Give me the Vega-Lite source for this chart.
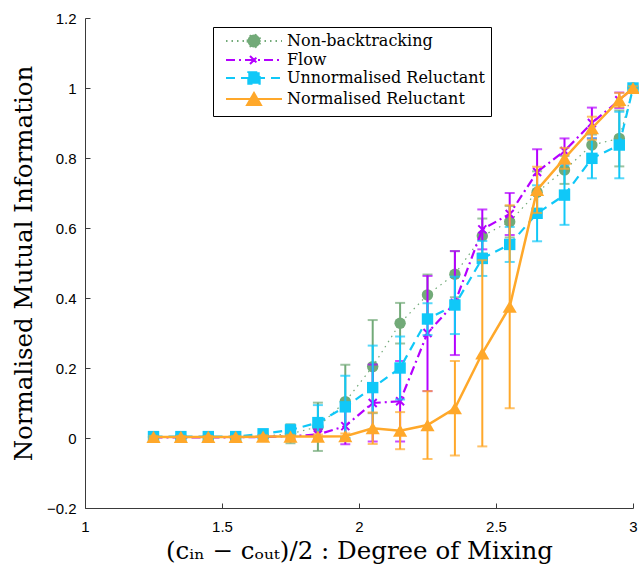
{
  "$schema": "https://vega.github.io/schema/vega-lite/v6.json",
  "width": 548,
  "height": 490,
  "autosize": {"type": "none"},
  "padding": {"left": 85, "top": 18, "right": 6, "bottom": 58},
  "background": "white",
  "config": {
    "view": {"stroke": null},
    "axis": {
      "grid": false,
      "domainColor": "#3a3a3a",
      "tickColor": "#3a3a3a",
      "domainWidth": 1,
      "tickWidth": 1,
      "labelFont": "Liberation Sans",
      "labelFontSize": 15,
      "labelColor": "#000000",
      "titleFont": "DejaVu Serif",
      "titleFontSize": 24.5,
      "titleFontWeight": "normal",
      "titleColor": "#000000"
    },
    "legend": {
      "labelFont": "DejaVu Serif",
      "labelFontSize": 16,
      "labelColor": "#000000",
      "labelLimit": 400,
      "symbolSize": 100,
      "symbolOffset": 27,
      "labelOffset": 25,
      "symbolOpacity": 1,
      "symbolStrokeWidth": 2,
      "rowPadding": 0,
      "padding": 6,
      "strokeColor": "#000000",
      "fillColor": "#ffffff"
    }
  },
  "data": {"values": [
    {"s": "Non-backtracking", "x": 1.25, "y": 0.003, "lo": -0.002, "hi": 0.008},
    {"s": "Non-backtracking", "x": 1.35, "y": 0.003, "lo": -0.002, "hi": 0.008},
    {"s": "Non-backtracking", "x": 1.45, "y": 0.003, "lo": -0.002, "hi": 0.008},
    {"s": "Non-backtracking", "x": 1.55, "y": 0.003, "lo": -0.002, "hi": 0.008},
    {"s": "Non-backtracking", "x": 1.65, "y": 0.005, "lo": -0.003, "hi": 0.013},
    {"s": "Non-backtracking", "x": 1.75, "y": 0.012, "lo": -0.015, "hi": 0.039},
    {"s": "Non-backtracking", "x": 1.85, "y": 0.032, "lo": -0.037, "hi": 0.101},
    {"s": "Non-backtracking", "x": 1.95, "y": 0.104, "lo": 0.0, "hi": 0.209},
    {"s": "Non-backtracking", "x": 2.05, "y": 0.204, "lo": 0.071, "hi": 0.337},
    {"s": "Non-backtracking", "x": 2.15, "y": 0.328, "lo": 0.27, "hi": 0.386},
    {"s": "Non-backtracking", "x": 2.25, "y": 0.409, "lo": 0.351, "hi": 0.467},
    {"s": "Non-backtracking", "x": 2.35, "y": 0.468, "lo": 0.402, "hi": 0.534},
    {"s": "Non-backtracking", "x": 2.45, "y": 0.577, "lo": 0.527, "hi": 0.627},
    {"s": "Non-backtracking", "x": 2.55, "y": 0.618, "lo": 0.573, "hi": 0.663},
    {"s": "Non-backtracking", "x": 2.65, "y": 0.702, "lo": 0.642, "hi": 0.762},
    {"s": "Non-backtracking", "x": 2.75, "y": 0.766, "lo": 0.726, "hi": 0.806},
    {"s": "Non-backtracking", "x": 2.85, "y": 0.837, "lo": 0.807, "hi": 0.867},
    {"s": "Non-backtracking", "x": 2.95, "y": 0.856, "lo": 0.776, "hi": 0.936},
    {"s": "Non-backtracking", "x": 3.0, "y": 1.0, "lo": 0.997, "hi": 1.003},
    {"s": "Flow", "x": 1.25, "y": 0.002, "lo": -0.001, "hi": 0.005},
    {"s": "Flow", "x": 1.35, "y": 0.002, "lo": -0.001, "hi": 0.005},
    {"s": "Flow", "x": 1.45, "y": 0.002, "lo": -0.001, "hi": 0.005},
    {"s": "Flow", "x": 1.55, "y": 0.002, "lo": -0.001, "hi": 0.005},
    {"s": "Flow", "x": 1.65, "y": 0.003, "lo": -0.002, "hi": 0.008},
    {"s": "Flow", "x": 1.75, "y": 0.005, "lo": -0.003, "hi": 0.013},
    {"s": "Flow", "x": 1.85, "y": 0.01, "lo": -0.005, "hi": 0.025},
    {"s": "Flow", "x": 1.95, "y": 0.034, "lo": -0.018, "hi": 0.086},
    {"s": "Flow", "x": 2.05, "y": 0.1, "lo": -0.01, "hi": 0.21},
    {"s": "Flow", "x": 2.15, "y": 0.105, "lo": -0.01, "hi": 0.22},
    {"s": "Flow", "x": 2.25, "y": 0.3, "lo": 0.134, "hi": 0.463},
    {"s": "Flow", "x": 2.35, "y": 0.386, "lo": 0.237, "hi": 0.534},
    {"s": "Flow", "x": 2.45, "y": 0.596, "lo": 0.539, "hi": 0.653},
    {"s": "Flow", "x": 2.55, "y": 0.64, "lo": 0.58, "hi": 0.7},
    {"s": "Flow", "x": 2.65, "y": 0.76, "lo": 0.695, "hi": 0.825},
    {"s": "Flow", "x": 2.75, "y": 0.82, "lo": 0.784, "hi": 0.856},
    {"s": "Flow", "x": 2.85, "y": 0.9, "lo": 0.856, "hi": 0.944},
    {"s": "Flow", "x": 2.95, "y": 0.965, "lo": 0.943, "hi": 0.987},
    {"s": "Flow", "x": 3.0, "y": 1.0, "lo": 0.997, "hi": 1.003},
    {"s": "Unnormalised Reluctant", "x": 1.25, "y": 0.004, "lo": 0.0, "hi": 0.008},
    {"s": "Unnormalised Reluctant", "x": 1.35, "y": 0.004, "lo": 0.0, "hi": 0.008},
    {"s": "Unnormalised Reluctant", "x": 1.45, "y": 0.004, "lo": 0.0, "hi": 0.008},
    {"s": "Unnormalised Reluctant", "x": 1.55, "y": 0.004, "lo": 0.0, "hi": 0.008},
    {"s": "Unnormalised Reluctant", "x": 1.65, "y": 0.012, "lo": 0.004, "hi": 0.02},
    {"s": "Unnormalised Reluctant", "x": 1.75, "y": 0.023, "lo": 0.008, "hi": 0.038},
    {"s": "Unnormalised Reluctant", "x": 1.85, "y": 0.044, "lo": -0.006, "hi": 0.094},
    {"s": "Unnormalised Reluctant", "x": 1.95, "y": 0.089, "lo": 0.0, "hi": 0.178},
    {"s": "Unnormalised Reluctant", "x": 2.05, "y": 0.144, "lo": 0.024, "hi": 0.264},
    {"s": "Unnormalised Reluctant", "x": 2.15, "y": 0.2, "lo": 0.11, "hi": 0.29},
    {"s": "Unnormalised Reluctant", "x": 2.25, "y": 0.34, "lo": 0.294, "hi": 0.385},
    {"s": "Unnormalised Reluctant", "x": 2.35, "y": 0.38, "lo": 0.297, "hi": 0.461},
    {"s": "Unnormalised Reluctant", "x": 2.45, "y": 0.513, "lo": 0.463, "hi": 0.563},
    {"s": "Unnormalised Reluctant", "x": 2.55, "y": 0.553, "lo": 0.503, "hi": 0.603},
    {"s": "Unnormalised Reluctant", "x": 2.65, "y": 0.642, "lo": 0.562, "hi": 0.722},
    {"s": "Unnormalised Reluctant", "x": 2.75, "y": 0.694, "lo": 0.609, "hi": 0.779},
    {"s": "Unnormalised Reluctant", "x": 2.85, "y": 0.799, "lo": 0.742, "hi": 0.856},
    {"s": "Unnormalised Reluctant", "x": 2.95, "y": 0.837, "lo": 0.742, "hi": 0.932},
    {"s": "Unnormalised Reluctant", "x": 3.0, "y": 1.0, "lo": 0.995, "hi": 1.005},
    {"s": "Normalised Reluctant", "x": 1.25, "y": 0.003, "lo": 0.0, "hi": 0.006},
    {"s": "Normalised Reluctant", "x": 1.35, "y": 0.003, "lo": 0.0, "hi": 0.006},
    {"s": "Normalised Reluctant", "x": 1.45, "y": 0.003, "lo": 0.0, "hi": 0.006},
    {"s": "Normalised Reluctant", "x": 1.55, "y": 0.003, "lo": 0.0, "hi": 0.006},
    {"s": "Normalised Reluctant", "x": 1.65, "y": 0.004, "lo": 0.0, "hi": 0.008},
    {"s": "Normalised Reluctant", "x": 1.75, "y": 0.004, "lo": -0.001, "hi": 0.009},
    {"s": "Normalised Reluctant", "x": 1.85, "y": 0.004, "lo": -0.002, "hi": 0.01},
    {"s": "Normalised Reluctant", "x": 1.95, "y": 0.005, "lo": -0.003, "hi": 0.013},
    {"s": "Normalised Reluctant", "x": 2.05, "y": 0.028, "lo": -0.017, "hi": 0.073},
    {"s": "Normalised Reluctant", "x": 2.15, "y": 0.021, "lo": -0.032, "hi": 0.074},
    {"s": "Normalised Reluctant", "x": 2.25, "y": 0.037, "lo": -0.06, "hi": 0.134},
    {"s": "Normalised Reluctant", "x": 2.35, "y": 0.085, "lo": -0.05, "hi": 0.22},
    {"s": "Normalised Reluctant", "x": 2.45, "y": 0.242, "lo": -0.024, "hi": 0.508},
    {"s": "Normalised Reluctant", "x": 2.55, "y": 0.375, "lo": 0.085, "hi": 0.665},
    {"s": "Normalised Reluctant", "x": 2.65, "y": 0.709, "lo": 0.643, "hi": 0.775},
    {"s": "Normalised Reluctant", "x": 2.75, "y": 0.799, "lo": 0.769, "hi": 0.829},
    {"s": "Normalised Reluctant", "x": 2.85, "y": 0.885, "lo": 0.852, "hi": 0.918},
    {"s": "Normalised Reluctant", "x": 2.95, "y": 0.966, "lo": 0.946, "hi": 0.986},
    {"s": "Normalised Reluctant", "x": 3.0, "y": 1.0, "lo": 0.995, "hi": 1.005}
  ]},
  "encoding": {
    "x": {
      "field": "x", "type": "quantitative",
      "scale": {"domain": [1, 3], "nice": false, "zero": false},
      "axis": {"values": [1, 1.5, 2, 2.5, 3], "format": "~g", "tickSize": -5, "labelPadding": 16, "labelFlush": false, "labelOverlap": false, "titlePadding": 5},
      "title": "(cᵢₙ − cₒᵤₜ)/2 : Degree of Mixing"
    },
    "y": {
      "field": "y", "type": "quantitative",
      "scale": {"domain": [-0.2, 1.2], "nice": false, "zero": false},
      "axis": {"values": [-0.2, 0, 0.2, 0.4, 0.6, 0.8, 1, 1.2], "format": "~g", "tickSize": -5, "labelPadding": 14, "labelFlush": false, "labelOverlap": false, "titlePadding": 10},
      "title": "Normalised Mutual Information"
    }
  },
  "layer": [
    {
      "transform": [{"filter": "datum.s === 'Non-backtracking'"}],
      "layer": [
        {"mark": {"type": "rule", "color": "#72aa78", "strokeWidth": 2}, "encoding": {"y": {"field": "lo", "type": "quantitative", "title": "Normalised Mutual Information"}, "y2": {"field": "hi"}}},
        {"mark": {"type": "tick", "orient": "horizontal", "color": "#72aa78", "thickness": 2, "size": 10}, "encoding": {"y": {"field": "lo", "type": "quantitative", "title": "Normalised Mutual Information"}}},
        {"mark": {"type": "tick", "orient": "horizontal", "color": "#72aa78", "thickness": 2, "size": 10}, "encoding": {"y": {"field": "hi", "type": "quantitative", "title": "Normalised Mutual Information"}}},
        {"mark": {"type": "line", "color": "#72aa78", "strokeWidth": 1.2, "strokeDash": [1.5, 4.5]}, "encoding": {}},
        {"mark": {"type": "point", "shape": "circle", "filled": true, "color": "#72aa78", "size": 130, "opacity": 1}, "encoding": {}}
      ]
    },
    {
      "transform": [{"filter": "datum.s === 'Flow'"}],
      "layer": [
        {"mark": {"type": "rule", "color": "#b400ff", "strokeWidth": 2}, "encoding": {"y": {"field": "lo", "type": "quantitative", "title": "Normalised Mutual Information"}, "y2": {"field": "hi"}}},
        {"mark": {"type": "tick", "orient": "horizontal", "color": "#b400ff", "thickness": 2, "size": 10}, "encoding": {"y": {"field": "lo", "type": "quantitative", "title": "Normalised Mutual Information"}}},
        {"mark": {"type": "tick", "orient": "horizontal", "color": "#b400ff", "thickness": 2, "size": 10}, "encoding": {"y": {"field": "hi", "type": "quantitative", "title": "Normalised Mutual Information"}}},
        {"mark": {"type": "line", "color": "#b400ff", "strokeWidth": 2.2, "strokeDash": [9, 4, 2, 4]}, "encoding": {}},
        {"mark": {"type": "point", "shape": "M-1,-1L1,1M-1,1L1,-1", "filled": false, "color": "#b400ff", "size": 64, "strokeWidth": 2, "opacity": 1}, "encoding": {}}
      ]
    },
    {
      "transform": [{"filter": "datum.s === 'Unnormalised Reluctant'"}],
      "layer": [
        {"mark": {"type": "rule", "color": "#10c8f8", "strokeWidth": 2}, "encoding": {"y": {"field": "lo", "type": "quantitative", "title": "Normalised Mutual Information"}, "y2": {"field": "hi"}}},
        {"mark": {"type": "tick", "orient": "horizontal", "color": "#10c8f8", "thickness": 2, "size": 10}, "encoding": {"y": {"field": "lo", "type": "quantitative", "title": "Normalised Mutual Information"}}},
        {"mark": {"type": "tick", "orient": "horizontal", "color": "#10c8f8", "thickness": 2, "size": 10}, "encoding": {"y": {"field": "hi", "type": "quantitative", "title": "Normalised Mutual Information"}}},
        {"mark": {"type": "line", "color": "#10c8f8", "strokeWidth": 2.2, "strokeDash": [9, 6]}, "encoding": {}},
        {"mark": {"type": "point", "shape": "square", "filled": true, "color": "#10c8f8", "size": 130, "opacity": 1}, "encoding": {}}
      ]
    },
    {
      "transform": [{"filter": "datum.s === 'Normalised Reluctant'"}],
      "layer": [
        {"mark": {"type": "rule", "color": "#ffa82a", "strokeWidth": 2}, "encoding": {"y": {"field": "lo", "type": "quantitative", "title": "Normalised Mutual Information"}, "y2": {"field": "hi"}}},
        {"mark": {"type": "tick", "orient": "horizontal", "color": "#ffa82a", "thickness": 2, "size": 10}, "encoding": {"y": {"field": "lo", "type": "quantitative", "title": "Normalised Mutual Information"}}},
        {"mark": {"type": "tick", "orient": "horizontal", "color": "#ffa82a", "thickness": 2, "size": 10}, "encoding": {"y": {"field": "hi", "type": "quantitative", "title": "Normalised Mutual Information"}}},
        {"mark": {"type": "line", "color": "#ffa82a", "strokeWidth": 2.5}, "encoding": {}},
        {"mark": {"type": "point", "shape": "triangle-up", "filled": true, "color": "#ffa82a", "size": 200, "opacity": 1}, "encoding": {}}
      ]
    },
    {
      "transform": [{"filter": "datum.x > 10"}],
      "mark": {"type": "point", "opacity": 1},
      "encoding": {
        "fill": {
          "field": "s", "type": "nominal",
          "scale": {"domain": ["Non-backtracking", "Flow", "Unnormalised Reluctant", "Normalised Reluctant"], "range": ["#72aa78", "transparent", "#10c8f8", "#ffa82a"]},
          "legend": {"orient": "none", "legendX": 128, "legendY": 9, "title": null, "labelFont": "DejaVu Serif", "labelFontSize": 16}
        },
        "stroke": {
          "field": "s", "type": "nominal",
          "scale": {"domain": ["Non-backtracking", "Flow", "Unnormalised Reluctant", "Normalised Reluctant"], "range": ["#72aa78", "#b400ff", "#10c8f8", "#ffa82a"]},
          "legend": {"orient": "none", "legendX": 128, "legendY": 9, "title": null, "labelFont": "DejaVu Serif", "labelFontSize": 16}
        },
        "strokeDash": {
          "field": "s", "type": "nominal",
          "scale": {"domain": ["Non-backtracking", "Flow", "Unnormalised Reluctant", "Normalised Reluctant"], "range": [[1.5, 4], [9, 4, 2, 4], [9, 6], [1, 0]]},
          "legend": {"orient": "none", "legendX": 128, "legendY": 9, "title": null, "labelFont": "DejaVu Serif", "labelFontSize": 16}
        },
        "shape": {
          "field": "s", "type": "nominal",
          "scale": {"domain": ["Non-backtracking", "Flow", "Unnormalised Reluctant", "Normalised Reluctant"], "range": [
            "M-5.6,0H5.6M-1.28,0A1.28,1.28,0,1,0,1.28,0A1.28,1.28,0,1,0,-1.28,0Z",
            "M-5.6,0H5.6M-0.8,-0.8L0.8,0.8M-0.8,0.8L0.8,-0.8",
            "M-5.6,0H5.6M-1.14,-1.14H1.14V1.14H-1.14Z",
            "M-5.6,0H5.6M0,-1.21L1.4,1.21L-1.4,1.21Z"
          ]},
          "legend": {"orient": "none", "legendX": 128, "legendY": 9, "title": null, "labelFont": "DejaVu Serif", "labelFontSize": 16}
        }
      }
    }
  ]
}
